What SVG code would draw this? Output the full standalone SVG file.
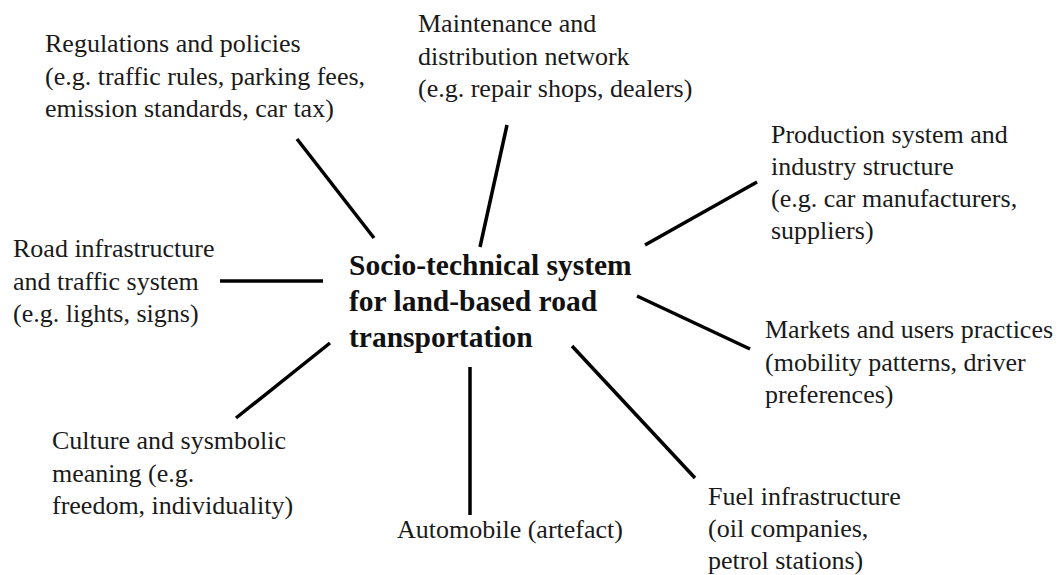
<svg xmlns="http://www.w3.org/2000/svg" width="1059" height="575" viewBox="0 0 1059 575">
<style>
.lbl{font-family:"Liberation Serif","Times New Roman",serif;font-size:26px;fill:#1a1a1a}
.ctr{font-family:"Liberation Serif","Times New Roman",serif;font-size:29.5px;font-weight:bold;fill:#111}
.con line{stroke:#000;stroke-width:3.5;stroke-linecap:butt}
</style>
<rect width="1059" height="575" fill="#fff"/>
<g id="connectors" class="con">
<line x1="297" y1="139" x2="374" y2="238"/>
<line x1="507" y1="125" x2="480" y2="247"/>
<line x1="757" y1="182" x2="645" y2="245"/>
<line x1="220" y1="281" x2="323" y2="281"/>
<line x1="637" y1="296" x2="750" y2="349"/>
<line x1="330" y1="343" x2="236" y2="418"/>
<line x1="470" y1="367" x2="470" y2="515"/>
<line x1="572" y1="346" x2="695" y2="478"/>
</g>
<g id="center">
<text class="ctr" x="349" y="275">Socio-technical system</text>
<text class="ctr" x="349" y="311">for land-based road</text>
<text class="ctr" x="349" y="347">transportation</text>
</g>
<g id="regulations">
<text class="lbl" x="45" y="52">Regulations and policies</text>
<text class="lbl" x="45" y="84.5">(e.g. traffic rules, parking fees,</text>
<text class="lbl" x="45" y="117">emission standards, car tax)</text>
</g>
<g id="maintenance">
<text class="lbl" x="418" y="32">Maintenance and</text>
<text class="lbl" x="418" y="64.5">distribution network</text>
<text class="lbl" x="418" y="97">(e.g. repair shops, dealers)</text>
</g>
<g id="production">
<text class="lbl" x="771" y="143">Production system and</text>
<text class="lbl" x="771" y="175">industry structure</text>
<text class="lbl" x="771" y="207">(e.g. car manufacturers,</text>
<text class="lbl" x="771" y="239">suppliers)</text>
</g>
<g id="road">
<text class="lbl" x="13" y="257">Road infrastructure</text>
<text class="lbl" x="13" y="289.5">and traffic system</text>
<text class="lbl" x="13" y="322">(e.g. lights, signs)</text>
</g>
<g id="markets">
<text class="lbl" x="765" y="338">Markets and users practices</text>
<text class="lbl" x="765" y="371">(mobility patterns, driver</text>
<text class="lbl" x="765" y="403">preferences)</text>
</g>
<g id="culture">
<text class="lbl" x="52" y="449">Culture and sysmbolic</text>
<text class="lbl" x="52" y="481.5">meaning (e.g.</text>
<text class="lbl" x="52" y="514">freedom, individuality)</text>
</g>
<g id="automobile">
<text class="lbl" x="397" y="538">Automobile (artefact)</text>
</g>
<g id="fuel">
<text class="lbl" x="708" y="505">Fuel infrastructure</text>
<text class="lbl" x="708" y="537">(oil companies,</text>
<text class="lbl" x="708" y="569">petrol stations)</text>
</g>
</svg>
